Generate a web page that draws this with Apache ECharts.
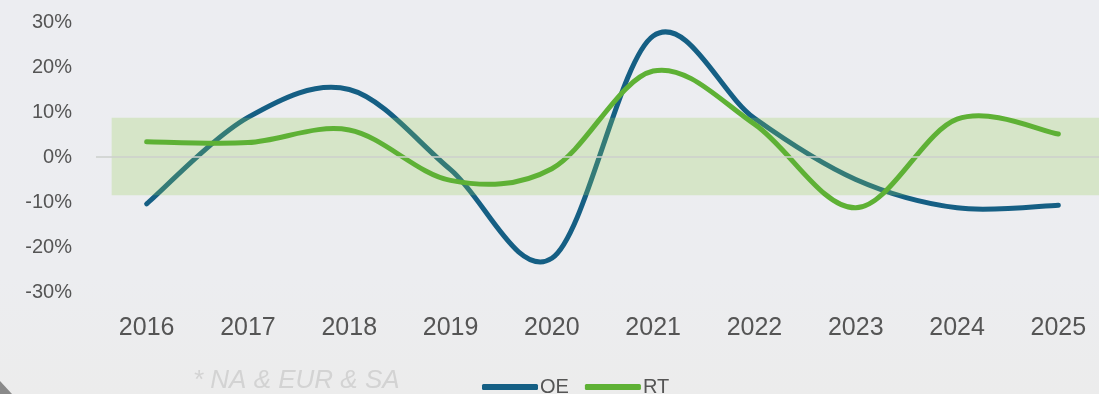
<!DOCTYPE html>
<html>
<head>
<meta charset="utf-8">
<script src="https://cdn.jsdelivr.net/npm/echarts@6/dist/echarts.min.js"></script>
<style>
  html, body { margin: 0; padding: 0; background: #ecedf1; }
  #chart { width: 1099px; height: 394px; }
</style>
</head>
<body>
<div id="chart"></div>
<script>
// Year-over-year change, percent
const years = ['2016', '2017', '2018', '2019', '2020', '2021', '2022', '2023', '2024', '2025'];
const oeValues = [-10.4, 8.8, 15.0, -2.8, -22.5, 26.9, 8.6, -5.0, -11.3, -10.7];
const rtValues = [3.4, 3.2, 6.0, -5.2, -2.6, 19.1, 7.3, -11.3, 8.4, 5.1];
// Normal range band, percent
const bandRange = [8.75, -8.5];
const yTicks = { min: -30, max: 30, step: 10 };

const fontFamily = '"Liberation Sans", Arial, sans-serif';
const OE_COLOR = '#155f84';
const RT_COLOR = '#5eb135';

// Draws the whole series as one Catmull-Rom style bezier path through
// the points the axes give for each value.
function smoothLineRenderer(color) {
  return function (params, api) {
    if (params.dataIndexInside !== 0) return null;
    const n = params.dataInsideLength;
    const pts = [];
    for (let i = 0; i < n; i++) {
      pts.push(api.coord([i, api.value(1, i)]));
    }
    let d = 'M' + pts[0][0] + ' ' + pts[0][1];
    for (let i = 0; i < n - 1; i++) {
      const p0 = pts[Math.max(i - 1, 0)];
      const p1 = pts[i];
      const p2 = pts[i + 1];
      const p3 = pts[Math.min(i + 2, n - 1)];
      const c1x = p1[0] + (p2[0] - p0[0]) / 6;
      const c1y = p1[1] + (p2[1] - p0[1]) / 6;
      const c2x = p2[0] - (p3[0] - p1[0]) / 6;
      const c2y = p2[1] - (p3[1] - p1[1]) / 6;
      d += ' C' + c1x + ' ' + c1y + ' ' + c2x + ' ' + c2y + ' ' + p2[0] + ' ' + p2[1];
    }
    return {
      type: 'path',
      shape: { pathData: d },
      style: { fill: null, stroke: color, lineWidth: 5, lineCap: 'round', lineJoin: 'round' }
    };
  };
}

const chart = echarts.init(document.getElementById('chart'));

chart.setOption({
  backgroundColor: {
    type: 'linear', x: 0, y: 0, x2: 0, y2: 1,
    colorStops: [
      { offset: 0, color: '#ecedf1' },
      { offset: 0.7, color: '#ecedf0' },
      { offset: 1, color: '#ececec' }
    ]
  },
  animation: false,
  textStyle: { fontFamily: fontFamily },
  grid: { left: 96, right: -10, top: 22, bottom: 102, containLabel: false, outerBoundsMode: 'none' },
  legend: {
    data: [
      { name: 'OE', itemStyle: { color: OE_COLOR } },
      { name: 'RT', itemStyle: { color: RT_COLOR } }
    ],
    left: 477,
    top: 372,
    itemWidth: 56,
    itemHeight: 6,
    itemGap: 16,
    icon: 'roundRect',
    textStyle: { fontSize: 20, color: '#555555', fontFamily: fontFamily, padding: [0, 0, 0, -3] }
  },
  xAxis: {
    type: 'category',
    data: years,
    boundaryGap: true,
    axisLine: { show: false, onZero: false },
    axisTick: { show: false },
    axisLabel: { fontSize: 25, color: '#555555', margin: 24 }
  },
  yAxis: {
    type: 'value',
    min: yTicks.min,
    max: yTicks.max,
    interval: yTicks.step,
    axisLine: { show: false },
    axisTick: { show: false },
    splitLine: { show: false },
    axisLabel: { fontSize: 20, color: '#555555', margin: 24, formatter: '{value}%' }
  },
  graphic: [
    {
      type: 'text',
      left: 193,
      top: 368,
      style: {
        text: '* NA & EUR & SA',
        font: 'italic 26px ' + fontFamily,
        fill: '#d3d3d3'
      }
    },
    {
      type: 'polygon',
      shape: { points: [[0, 381], [0, 394], [12, 394]] },
      style: { fill: '#8a8a8a' },
      silent: true
    }
  ],
  series: [
    {
      name: 'OE',
      type: 'custom',
      z: 2,
      silent: true,
      color: OE_COLOR,
      data: oeValues.map(function (v, i) { return [i, v]; }),
      encode: { x: 0, y: 1 },
      renderItem: smoothLineRenderer(OE_COLOR),
      markLine: {
        silent: true,
        symbol: 'none',
        label: { show: false },
        lineStyle: { color: '#cdcfcc', width: 1.5, type: 'solid' },
        data: [{ yAxis: 0 }]
      }
    },
    {
      name: 'band',
      type: 'custom',
      z: 3,
      silent: true,
      data: [bandRange],
      renderItem: function (params, api) {
        const top = api.coord([0, api.value(0)])[1];
        const bottom = api.coord([0, api.value(1)])[1];
        const x0 = api.coord([0, 0])[0] - 35;
        return {
          type: 'rect',
          shape: { x: x0, y: top, width: params.coordSys.x + params.coordSys.width - x0, height: bottom - top },
          style: { fill: 'rgba(146, 208, 80, 0.25)' }
        };
      }
    },
    {
      name: 'RT',
      type: 'custom',
      z: 4,
      silent: true,
      color: RT_COLOR,
      data: rtValues.map(function (v, i) { return [i, v]; }),
      encode: { x: 0, y: 1 },
      renderItem: smoothLineRenderer(RT_COLOR)
    }
  ]
});
</script>
</body>
</html>
